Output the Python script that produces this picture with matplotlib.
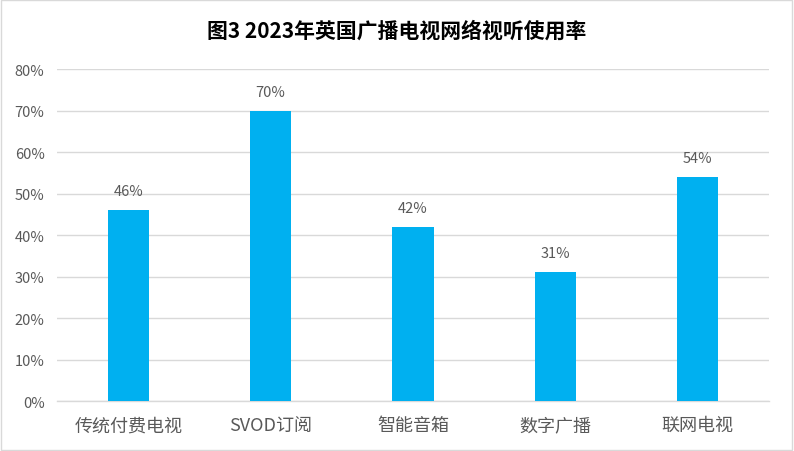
import matplotlib
matplotlib.use("Agg")
import matplotlib.pyplot as plt
from matplotlib.ticker import FuncFormatter
from matplotlib.patches import Rectangle

plt.rcParams['font.family'] = ['Noto Sans CJK SC', 'DejaVu Sans']

title = "图3 2023年英国广播电视网络视听使用率"
categories = ["传统付费电视", "SVOD订阅", "智能音箱", "数字广播", "联网电视"]
values = [46, 70, 42, 31, 54]
yticks = [0, 10, 20, 30, 40, 50, 60, 70, 80]

fig = plt.figure(figsize=(7.94, 4.52), dpi=100)
ax = fig.add_axes([0.0718, 0.1106, 0.8967, 0.7344])

x = range(len(categories))
ax.bar(x, values, width=0.29, color="#00B0F0", zorder=3)
for xi, v in zip(x, values):
    ax.text(xi, v + 2.9, f"{v}%", ha="center", va="bottom", fontsize=10.5, color="#595959")

ax.set_xlim(-0.5, len(categories) - 0.5)
ax.set_ylim(0, 80)
ax.set_yticks(yticks)
ax.yaxis.set_major_formatter(FuncFormatter(lambda v, p: f"{int(v)}%"))
ax.set_xticks(list(x))
ax.set_xticklabels(categories, fontsize=13)
ax.tick_params(axis="both", length=0, labelcolor="#595959")
ax.tick_params(axis="y", labelsize=10.5, pad=9)
ax.tick_params(axis="x", pad=11)
ax.grid(axis="y", color="#D9D9D9", linewidth=1, zorder=0)
for s in ["top", "right", "left"]:
    ax.spines[s].set_visible(False)
ax.spines["bottom"].set_color("#D9D9D9")
ax.spines["bottom"].set_linewidth(1)

fig.text(0.5, 1 - 31 / 452, title, ha="center", va="center", fontsize=15, fontweight="bold", color="#000000")

fig.patches.append(Rectangle((0.001, 0.002), 0.997, 0.996, transform=fig.transFigure,
                             fill=False, edgecolor="#D9D9D9", linewidth=1))

fig.savefig("out.png", dpi=100)
